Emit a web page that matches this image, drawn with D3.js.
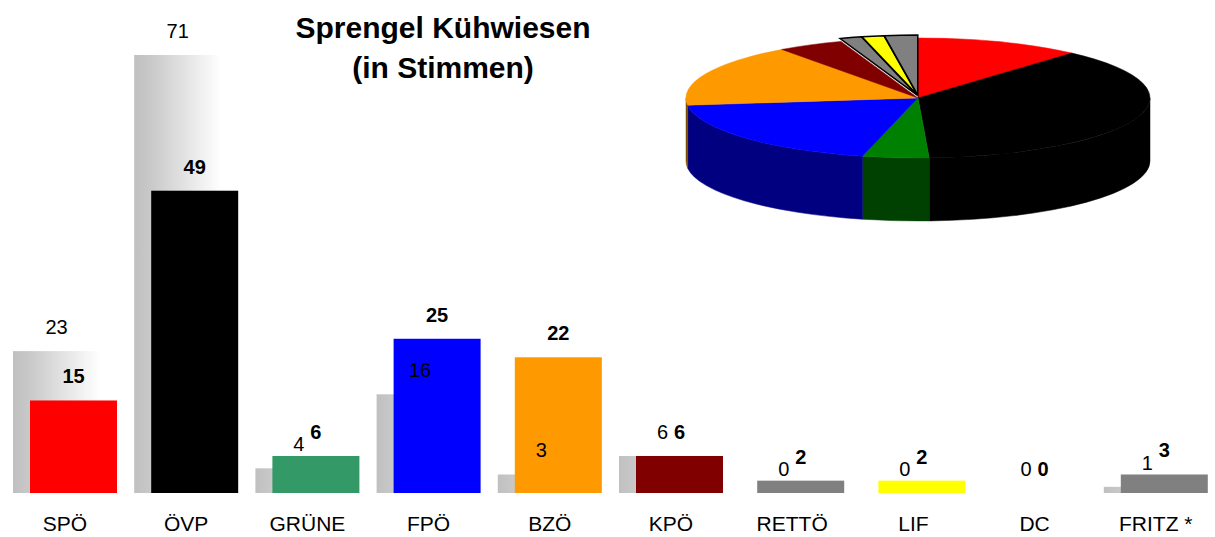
<!DOCTYPE html>
<html>
<head>
<meta charset="utf-8">
<script src="https://cdn.jsdelivr.net/npm/d3@7"></script>
<style>
  body { margin: 0; background: #fff; }
  text { font-family: Arial, "Liberation Sans", sans-serif; }
</style>
</head>
<body>
<div id="wrapper"></div>
<script>
// party data, Sprengel Kühwiesen
const parties = ["SPÖ", "ÖVP", "GRÜNE", "FPÖ", "BZÖ", "KPÖ", "RETTÖ", "LIF", "DC", "FRITZ *"]
const votesNow = [15, 49, 6, 25, 22, 6, 2, 2, 0, 3]
const votesPrev = [23, 71, 4, 16, 3, 6, 0, 0, 0, 1]
const barColors = ["#ff0000", "#000000", "#339966", "#0000ff", "#ff9900", "#800000", "#808080", "#ffff00", "#808080", "#808080"]
const pieColors = ["#ff0000", "#000000", "#008000", "#0000ff", "#ff9900", "#800000", "#808080", "#ffff00", "#808080", "#808080"]
const exploded = ["RETTÖ", "LIF", "FRITZ *"]

function drawChart() {
    let dimensions = { width: 1215, height: 537 }

    const svg = d3.select("#wrapper")
        .append("svg")
            .attr("width", dimensions.width)
            .attr("height", dimensions.height)

    // gradient for the previous-election bars
    const grad = svg.append("defs").append("linearGradient")
        .attr("id", "prevGrad")
        .attr("x1", "0%").attr("x2", "100%").attr("y1", "0%").attr("y2", "0%")
    grad.append("stop").attr("offset", "0%").attr("stop-color", "#c0c0c0")
    grad.append("stop").attr("offset", "18%").attr("stop-color", "#c8c8c8")
    grad.append("stop").attr("offset", "100%").attr("stop-color", "#ffffff")

    const x = d3.scaleBand()
        .domain(parties)
        .range([13, 13 + 121.2 * parties.length])

    const y = d3.scaleLinear()
        .domain([0, 71])
        .range([493, 55])

    const barW = 87
    const shift = 17

    const data = parties.map((p, i) => ({ party: p, now: votesNow[i], prev: votesPrev[i], color: barColors[i] }))

    const bars = svg.append("g")

    bars.selectAll(".prev")
        .data(data)
        .join("rect")
        .attr("x", d => x(d.party))
        .attr("y", d => y(d.prev))
        .attr("width", barW)
        .attr("height", d => y(0) - y(d.prev))
        .attr("fill", "url(#prevGrad)")

    bars.selectAll(".now")
        .data(data)
        .join("rect")
        .attr("x", d => x(d.party) + shift)
        .attr("y", d => y(d.now))
        .attr("width", barW)
        .attr("height", d => y(0) - y(d.now))
        .attr("fill", d => d.color)

    // value labels
    const labels = svg.append("g").attr("font-size", 20).attr("text-anchor", "middle")

    labels.selectAll(".prevLabel")
        .data(data)
        .join("text")
        .attr("x", d => x(d.party) + barW / 2)
        .attr("y", d => y(d.prev) - 17)
        .text(d => d.prev)

    labels.selectAll(".nowLabel")
        .data(data)
        .join("text")
        .attr("x", d => x(d.party) + shift + barW / 2)
        .attr("y", d => y(d.now) - 17)
        .attr("font-weight", "bold")
        .text(d => d.now)

    // category labels
    svg.append("g").attr("font-size", 21).attr("text-anchor", "middle")
        .selectAll("text")
        .data(data)
        .join("text")
        .attr("x", d => x(d.party) + (barW + shift) / 2)
        .attr("y", 531)
        .text(d => d.party)

    // title
    const title = svg.append("g").attr("font-size", 30).attr("font-weight", "bold").attr("text-anchor", "middle")
    title.append("text").attr("x", 443).attr("y", 38).text("Sprengel Kühwiesen")
    title.append("text").attr("x", 443).attr("y", 78).text("(in Stimmen)")

    // 3d pie
    const cx = 918, cy = 98, rx = 232, ry = 60, depth = 63
    const pt = (a, dx = 0, dy = 0) => [cx + rx * Math.sin(a) + dx, cy - ry * Math.cos(a) + dy]

    const arcs = d3.pie().sort(null).value(d => d.v)(
        parties.map((p, i) => ({ party: p, v: votesNow[i], color: pieColors[i] }))
    ).filter(a => a.data.v > 0)

    const pie = svg.append("g")

    const darker = c => {
        const col = d3.rgb(c)
        return d3.rgb(col.r * 0.5, col.g * 0.5, col.b * 0.5).formatHex()
    }

    // side walls (front half only)
    arcs.forEach(a => {
        const s0 = Math.max(a.startAngle, Math.PI / 2)
        const s1 = Math.min(a.endAngle, Math.PI * 3 / 2)
        if (s0 >= s1) return
        const p0 = pt(s0), p1 = pt(s1)
        const large = (s1 - s0) > Math.PI ? 1 : 0
        const d = `M${p0}A${rx},${ry} 0 ${large} 1 ${p1}L${p1[0]},${p1[1] + depth}A${rx},${ry} 0 ${large} 0 ${p0[0]},${p0[1] + depth}Z`
        pie.append("path")
            .attr("d", d)
            .attr("fill", darker(a.data.color))
            .attr("stroke", darker(a.data.color))
            .attr("stroke-width", 0.5)
    })

    // top faces
    arcs.forEach(a => {
        const isOut = exploded.includes(a.data.party)
        const mid = (a.startAngle + a.endAngle) / 2
        const off = isOut ? 3 : 0
        const dx = off * Math.sin(mid), dy = -off * Math.cos(mid)
        const c = [cx + dx, cy + dy]
        const p0 = pt(a.startAngle, dx, dy), p1 = pt(a.endAngle, dx, dy)
        const large = (a.endAngle - a.startAngle) > Math.PI ? 1 : 0
        pie.append("path")
            .attr("d", `M${c}L${p0}A${rx},${ry} 0 ${large} 1 ${p1}Z`)
            .attr("fill", a.data.color)
            .attr("stroke", isOut ? "#000" : a.data.color)
            .attr("stroke-width", isOut ? 1.5 : 0.5)
            .attr("stroke-linejoin", "miter")
    })
}

drawChart()
</script>
</body>
</html>
